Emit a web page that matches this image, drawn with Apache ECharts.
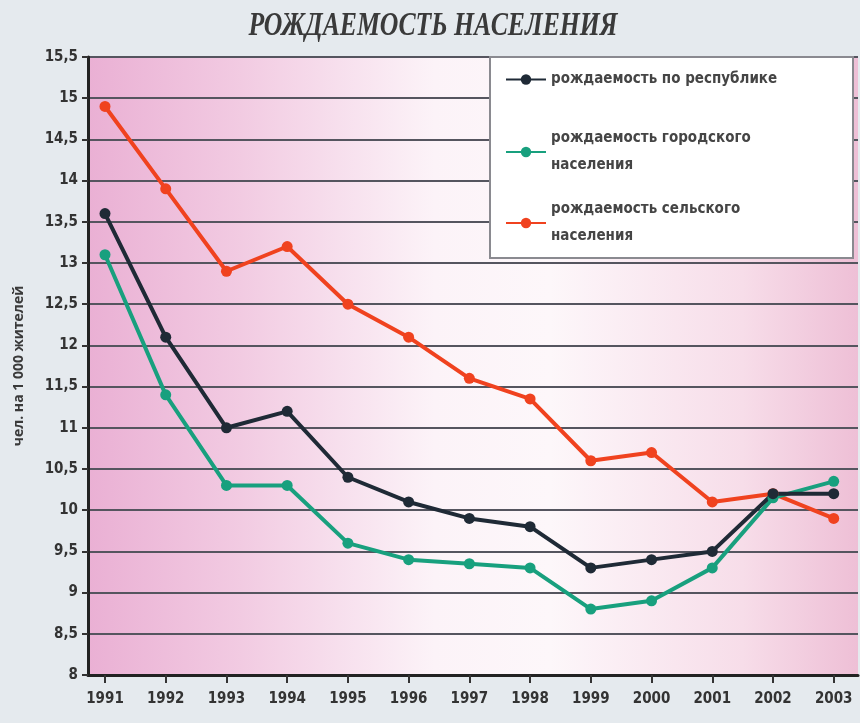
<!DOCTYPE html>
<html>
<head>
<meta charset="utf-8">
<script src="https://cdn.jsdelivr.net/npm/echarts@6/dist/echarts.min.js"></script>
<style>
  html, body { margin: 0; padding: 0; background: #e5eaee; }
  #chart { width: 860px; height: 723px; }
</style>
</head>
<body>
<div id="chart"></div>
<script>
var years = [1991, 1992, 1993, 1994, 1995, 1996, 1997, 1998, 1999, 2000, 2001, 2002, 2003];
var republic = [13.6, 12.1, 11.0, 11.2, 10.4, 10.1, 9.9, 9.8, 9.3, 9.4, 9.5, 10.2, 10.2];
var urban = [13.1, 11.4, 10.3, 10.3, 9.6, 9.4, 9.35, 9.3, 8.8, 8.9, 9.3, 10.15, 10.35];
var rural = [14.9, 13.9, 12.9, 13.2, 12.5, 12.1, 11.6, 11.35, 10.6, 10.7, 10.1, 10.2, 9.9];
var names = ['рождаемость по республике', 'рождаемость городского\nнаселения', 'рождаемость сельского\nнаселения'];
var colors = ['#1f2a36', '#18a07e', '#f0421f'];

function pairs(vals) {
    return years.map(function (y, i) { return [y, vals[i]]; });
}

var chart = echarts.init(document.getElementById('chart'));

function mkSeries(idx, vals) {
    return {
        name: names[idx],
        type: 'line',
        data: pairs(vals),
        symbol: 'circle',
        symbolSize: 11,
        color: colors[idx],
        lineStyle: { width: 4, color: colors[idx] },
        itemStyle: { color: colors[idx] }
    };
}

// one legend per item so each can sit where it is in the picture
function mkLegend(idx, top) {
    return {
        orient: 'vertical',
        left: 500,
        top: top,
        itemWidth: 40,
        itemHeight: 13,
        z: 10,
        data: [names[idx]],
        textStyle: {
            fontFamily: 'DejaVu Sans Condensed',
            fontSize: 15,
            fontWeight: 'bold',
            color: '#454545',
            lineHeight: 27
        }
    };
}

var option = {
    backgroundColor: '#e5eaee',
    animation: false,
    graphic: [
        {
            type: 'text',
            x: 433,
            y: 26,
            scaleX: 0.78,
            style: {
                text: 'РОЖДАЕМОСТЬ НАСЕЛЕНИЯ',
                font: 'italic bold 33px "Liberation Serif"',
                fill: '#3a3a3a',
                textAlign: 'center',
                textVerticalAlign: 'middle'
            }
        },
        {
            type: 'rect',
            shape: { x: 490, y: 57, width: 363, height: 201 },
            style: { fill: '#ffffff', stroke: '#8a8a90', lineWidth: 2 },
            z: 5
        }
    ],
    grid: {
        left: 88, top: 57, right: 2, bottom: 48,
        show: true,
        borderWidth: 0,
        backgroundColor: {
            type: 'linear', x: 0, y: 0, x2: 1, y2: 0,
            colorStops: [
                { offset: 0, color: '#eab0d4' },
                { offset: 0.2, color: '#f2cbe2' },
                { offset: 0.45, color: '#fcf3f8' },
                { offset: 0.6, color: '#fdf7fa' },
                { offset: 0.85, color: '#f7dde9' },
                { offset: 1, color: '#eebfd6' }
            ]
        }
    },
    legend: [
        mkLegend(0, 61),
        mkLegend(1, 120),
        mkLegend(2, 191)
    ],
    xAxis: {
        type: 'value',
        min: 1990.72,
        max: 2003.4,
        axisLine: { show: true, lineStyle: { color: '#222', width: 3 } },
        axisTick: { show: true, inside: false, length: 8, customValues: years, lineStyle: { color: '#333', width: 2 } },
        splitLine: { show: false },
        axisLabel: {
            customValues: years,
            margin: 17,
            formatter: function (v) { return String(v); },
            fontFamily: 'DejaVu Sans Condensed',
            fontWeight: 'bold',
            fontSize: 15,
            color: '#333'
        }
    },
    yAxis: {
        type: 'value',
        min: 8,
        max: 15.5,
        interval: 0.5,
        name: 'чел. на 1 000 жителей',
        nameLocation: 'middle',
        nameRotate: 90,
        nameGap: 62,
        nameTextStyle: {
            fontFamily: 'Open Sans',
            fontSize: 14,
            fontWeight: 'bold',
            color: '#3a3a3a'
        },
        axisLine: { show: true, lineStyle: { color: '#222', width: 3 } },
        axisTick: { show: true, inside: false, length: 6, lineStyle: { color: '#333', width: 2 } },
        splitLine: { show: true, lineStyle: { color: '#55555f', width: 2 } },
        axisLabel: {
            margin: 10,
            formatter: function (v) { return String(v).replace('.', ','); },
            fontFamily: 'DejaVu Sans Condensed',
            fontWeight: 'bold',
            fontSize: 15,
            color: '#333'
        }
    },
    series: [
        mkSeries(2, rural),
        mkSeries(1, urban),
        mkSeries(0, republic)
    ]
};

chart.setOption(option);
</script>
</body>
</html>
